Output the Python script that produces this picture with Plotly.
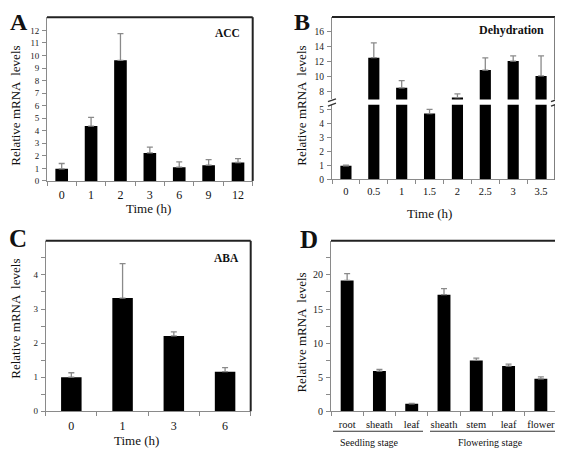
import plotly.graph_objects as go

# The page body has an 8px margin, so the figure is drawn at (8, 8).
OFF = 8
W, H = 563 - OFF, 457 - OFF
FONT = "Liberation Serif, Times New Roman, serif"

# ---------------- data ----------------
A_time = ["0", "1", "2", "3", "6", "9", "12"]
A_vals = [0.97, 4.37, 9.61, 2.23, 1.10, 1.26, 1.47]
A_err = [0.42, 0.69, 2.13, 0.47, 0.42, 0.44, 0.31]

B_time = ["0", "0.5", "1", "1.5", "2", "2.5", "3", "3.5"]
B_vals = [0.97, 12.55, 8.5, 4.72, 7.2, 10.88, 12.1, 10.1]
B_err = [0.05, 2.0, 0.96, 0.3, 0.5, 1.65, 0.7, 2.7]

C_time = ["0", "1", "3", "6"]
C_vals = [1.0, 3.32, 2.21, 1.16]
C_err = [0.13, 1.01, 0.12, 0.12]

D_stage = ["Seedling stage"] * 3 + ["Flowering stage"] * 4
D_tissue = ["root", "sheath", "leaf", "sheath", "stem", "leaf", "flower"]
D_vals = [19.2, 5.9, 1.1, 17.1, 7.45, 6.63, 4.76]
D_err = [1.0, 0.25, 0.05, 0.9, 0.35, 0.27, 0.29]

A_yticks = list(range(0, 13))
B_low_ticks = [0, 1, 2, 3, 4, 5]
B_up_ticks = [8, 10, 12, 14, 16]
C_yticks = [0, 0.5, 1, 1.5, 2, 2.5, 3, 3.5, 4, 4.5]
D_yticks = [0, 2.5, 5, 7.5, 10, 12.5, 15, 17.5, 20, 22.5]

YTITLE = "Relative mRNA  levels"
XTITLE = "Time (h)"


def px(x, y):
    """screen pixel -> paper fraction"""
    return (x - OFF) / W, 1 - (y - OFF) / H


def dx(x0, x1):
    return [px(x0, 0)[0], px(x1, 0)[0]]


def dy(ytop, ybot):
    return [px(0, ybot)[1], px(0, ytop)[1]]


AX = "#8a8a8a"
FRAME = "#222222"
ERRC = "#8a8a8a"


def bar(x, y, err, xa, ya, width=0.4):
    return go.Bar(
        x=x, y=y, xaxis=xa, yaxis=ya, width=width,
        marker=dict(color="black", line=dict(width=0)),
        error_y=dict(type="data", symmetric=False, array=err,
                     arrayminus=[0] * len(err), color=ERRC,
                     thickness=1.3, width=3),
        showlegend=False, hoverinfo="skip",
    )


D_cat = [f"{s}|{t}" for s, t in zip(D_stage, D_tissue)]

fig = go.Figure()
fig.add_trace(bar(A_time, A_vals, A_err, "x", "y", 0.43))
fig.add_trace(bar(B_time, B_vals, B_err, "x2", "y2"))
fig.add_trace(bar(B_time, B_vals, B_err, "x2", "y3"))
fig.add_trace(bar(C_time, C_vals, C_err, "x3", "y4"))
fig.add_trace(bar(D_cat, D_vals, D_err, "x4", "y5"))


def xax(domain, anchor, cats, size=12, standoff=1, **kw):
    d = dict(domain=domain, anchor=anchor, type="category",
             categoryorder="array", categoryarray=cats,
             range=[-0.5, len(cats) - 0.5],
             showline=True, linecolor=AX, linewidth=1,
             ticks="outside", ticklen=4, tickcolor=AX, tickwidth=1,
             tickson="boundaries", showgrid=False, zeroline=False,
             tickangle=0,
             tickfont=dict(family=FONT, size=size, color="#111"),
             ticklabelstandoff=standoff, fixedrange=True)
    d.update(kw)
    return d


def yax(domain, anchor, rng, tickvals, ticktext=None, size=9, **kw):
    d = dict(domain=domain, anchor=anchor, range=rng,
             showline=True, linecolor=AX, linewidth=1,
             ticks="outside", ticklen=4, tickcolor=AX, tickwidth=1,
             tickvals=tickvals, showgrid=False, zeroline=False,
             tickfont=dict(family=FONT, size=size, color="#222"),
             ticklabelstandoff=1, fixedrange=True)
    if ticktext is not None:
        d["ticktext"] = ticktext
    d.update(kw)
    return d


# domains (screen px -> paper)
A_x = dx(47, 252.7)
A_y = dy(17.3, 183.3)
B_x = dx(332, 555)
B_ylow = dy(106, 181.7)
B_yup = dy(17, 100.7)
C_x = dx(45.7, 250.7)
C_y = dy(244, 416.7)
D_x = dx(331, 557)
D_y = C_y

fig.update_layout(
    width=W, height=H, margin=dict(l=0, r=0, t=0, b=0),
    paper_bgcolor="white", plot_bgcolor="white",
    font=dict(family=FONT, color="#111"),
    xaxis=xax(A_x, "y", A_time, 12, 3),
    yaxis=yax(A_y, "x", [0, 13.05], A_yticks, size=9),
    xaxis2=xax(B_x, "y2", B_time, 10.5, 2),
    yaxis2=yax(B_ylow, "x2", [0, 5.36], B_low_ticks, size=9.5),
    yaxis3=yax(B_yup, "x2", [6.94, 18.03], B_up_ticks, size=9.5),
    xaxis3=xax(C_x, "y4", C_time, 12, 3),
    yaxis4=yax(C_y, "x3", [0, 5.0], C_yticks,
               [str(int(v)) if v == int(v) else "" for v in C_yticks], size=9),
    xaxis4=xax(D_x, "y5", D_cat, 10.5, 3, tickvals=D_cat, ticktext=D_tissue),
    yaxis5=yax(D_y, "x4", [0, 25.0], D_yticks,
               [str(int(v)) if v % 5 == 0 else "" for v in D_yticks], size=10),
)

shapes = []


def line(x0, y0, x1, y1, color, width):
    a = px(x0, y0)
    b = px(x1, y1)
    shapes.append(dict(type="line", xref="paper", yref="paper",
                       x0=a[0], y0=a[1], x1=b[0], y1=b[1],
                       line=dict(color=color, width=width)))


def frame(xd, yd, width=2, color=FRAME):
    x0, x1 = xd
    y0, y1 = yd
    shapes.append(dict(type="line", xref="paper", yref="paper",
                       x0=x0, x1=x1, y0=y1, y1=y1,
                       line=dict(color=color, width=width)))
    shapes.append(dict(type="line", xref="paper", yref="paper",
                       x0=x1, x1=x1, y0=y0, y1=y1,
                       line=dict(color=color, width=width)))


frame(A_x, A_y)
frame(C_x, C_y)
frame(D_x, D_y)
# B frame: top + right (both segments)
shapes.append(dict(type="line", xref="paper", yref="paper",
                   x0=B_x[0], x1=B_x[1], y0=B_yup[1], y1=B_yup[1],
                   line=dict(color=FRAME, width=2)))
for yd in (B_ylow, B_yup):
    shapes.append(dict(type="line", xref="paper", yref="paper",
                       x0=B_x[1], x1=B_x[1], y0=yd[0], y1=yd[1],
                       line=dict(color="#555", width=1.5)))

# break marks on B axis (left and right)
for bx in (332, 555):
    for by in (101.5, 106):
        line(bx - 4, by + 1.5, bx + 4, by - 1.5, "#333", 1.3)

# D group underlines
line(333, 437, 423, 437, "#333", 1.2)
line(430, 437, 556, 437, "#333", 1.2)

fig.update_layout(shapes=shapes)

ann = []


def text(x, y, s, size, bold=False, angle=0):
    p = px(x, y)
    ann.append(dict(x=p[0], y=p[1], xref="paper", yref="paper",
                    text=f"<b>{s}</b>" if bold else s, showarrow=False,
                    textangle=angle, xanchor="center", yanchor="middle",
                    font=dict(family=FONT, size=size, color="#111")))


# panel letters
text(19, 22.5, "A", 24, True)
text(302, 22.5, "B", 24, True)
text(18, 242, "C", 25, True)
text(309, 243, "D", 25, True)
# inset labels
text(227, 33.5, "ACC", 11.5, True)
text(511, 30, "Dehydration", 12, True)
text(226, 261, "ABA", 11.5, True)
# y titles
text(16, 107, YTITLE, 13, angle=-90)
text(302, 107, YTITLE, 13, angle=-90)
text(16, 323, YTITLE, 13, angle=-90)
text(302, 337, YTITLE, 13, angle=-90)
# x titles
text(148, 211, XTITLE, 13)
text(429, 216.5, XTITLE, 13)
text(136, 446.5, XTITLE, 13)
# D group labels
text(369, 448, D_stage[0], 10)
text(490, 448, D_stage[-1], 10)

fig.update_layout(annotations=ann)
fig.write_html("out.html")
